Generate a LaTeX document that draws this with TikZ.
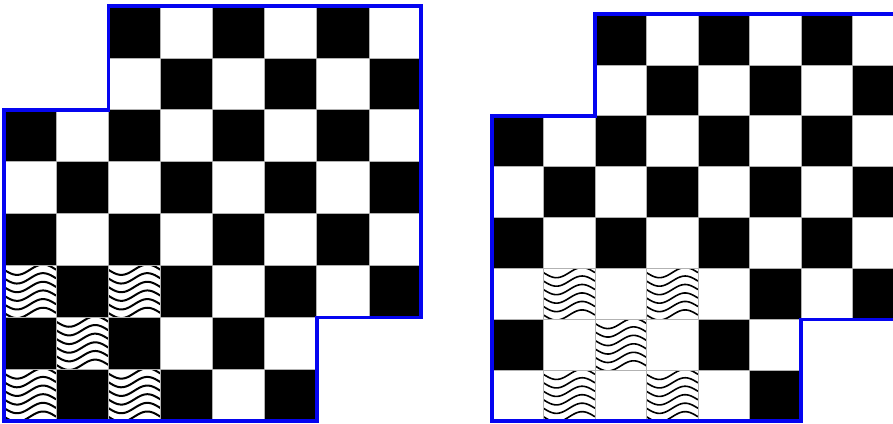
\documentclass[tikz,border=0pt]{standalone}
\definecolor{bblue}{RGB}{5,5,240}
\tikzset{
  gridline/.style={draw=gray!60,line width=0.6pt},
  outline/.style={draw=bblue,line width=3.5pt,line join=miter},
}
\newcommand\chessboard[6]{%
 \begin{scope}[shift={(#1,#2)}]
  \foreach \r in {0,...,7}{\foreach \c in {0,...,7}{%
    \pgfmathtruncatemacro\skipit{((\r<2)&&(\c<2))||((\r>5)&&(\c>5))}%
    \ifnum\skipit=0
      \pgfmathtruncatemacro\parity{mod(\r+\c,2)}%
      \ifnum\parity=0 \def\cc{black}\else\def\cc{white}\fi
      \filldraw[fill=\cc,gridline] (\c*#3,\r*#4) rectangle ++(#3,#4);
    \fi}}
  \foreach \r/\c in {#5}{%
    \begin{scope}
      \clip (\c*#3,\r*#4) rectangle ++(#3,#4);
      \fill[white] (\c*#3,\r*#4) rectangle ++(#3,#4);
      \foreach \k in {0,...,5}{%
        \draw[line width=#6] plot[domain=0:1,samples=30,variable=\t,smooth]
          ({(\c+\t)*#3},{(\r+(\k+0.5)/6)*#4 + 0.1*#4*sin(360*\t)});
      }
    \end{scope}
    \draw[gridline] (\c*#3,\r*#4) rectangle ++(#3,#4);
  }
  \draw[outline] (2*#3,0) -- (8*#3,0) -- (8*#3,6*#4) -- (6*#3,6*#4)
     -- (6*#3,8*#4) -- (0,8*#4) -- (0,2*#4) -- (2*#3,2*#4) -- cycle;
 \end{scope}}
\begin{document}
\begin{tikzpicture}[x=1pt,y=-1pt]
\useasboundingbox (0,0) rectangle (893,423);
\fill[white] (0,0) rectangle (893,423);
\clip (0,0) rectangle (893,423);
\chessboard{4}{6}{52.125}{51.875}{5/0,5/2,6/1,7/0,7/2}{2pt}
\chessboard{492}{14}{51.5}{50.875}{5/1,5/3,6/2,7/1,7/3}{1.6pt}
\end{tikzpicture}
\end{document}
